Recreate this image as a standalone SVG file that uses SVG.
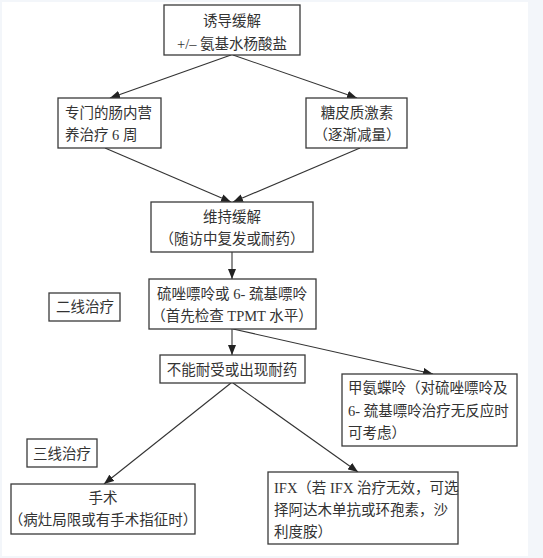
<svg xmlns="http://www.w3.org/2000/svg" width="543" height="558" viewBox="0 0 543 558">
<style>
.bx{fill:#fff;stroke:#3a3a3a;stroke-width:1.3}
.t{font-family:"Liberation Serif","Noto Sans CJK SC",serif;font-size:14.5px;fill:#333}
.c{text-anchor:middle}
.ln{stroke:#333;stroke-width:1.1;fill:none}
</style>
<defs>
<marker id="ah" markerUnits="userSpaceOnUse" markerWidth="10" markerHeight="8" refX="10" refY="4" orient="auto">
<path d="M0,0 L10,4 L0,8 z" fill="#222"/>
</marker>
</defs>
<rect x="0" y="0" width="543" height="558" fill="#f3f6fa"/>
<rect x="2" y="2" width="526" height="554" fill="#fff"/>
<g id="connectors">
<line class="ln" x1="231" y1="55" x2="110" y2="98" marker-end="url(#ah)"/>
<line class="ln" x1="233" y1="55" x2="357" y2="98" marker-end="url(#ah)"/>
<line class="ln" x1="105" y1="148" x2="231" y2="202" marker-end="url(#ah)"/>
<line class="ln" x1="360" y1="148" x2="233" y2="202" marker-end="url(#ah)"/>
<line class="ln" x1="232" y1="252" x2="232" y2="279" marker-end="url(#ah)"/>
<line class="ln" x1="232" y1="329" x2="232" y2="355" marker-end="url(#ah)"/>
<line class="ln" x1="233" y1="329" x2="433" y2="374" marker-end="url(#ah)"/>
<line class="ln" x1="231" y1="383" x2="104" y2="484" marker-end="url(#ah)"/>
<line class="ln" x1="233" y1="383" x2="358" y2="472" marker-end="url(#ah)"/>
</g>
<g id="n1"><rect class="bx" x="164" y="5" width="136" height="50"/>
<text class="t c" x="232" y="26">诱导缓解</text>
<text class="t c" x="232" y="49">+/– 氨基水杨酸盐</text></g>
<g id="n2"><rect class="bx" x="58" y="98" width="103" height="50"/>
<text class="t" x="65" y="118">专门的肠内营</text>
<text class="t" x="65" y="140">养治疗 6 周</text></g>
<g id="n3"><rect class="bx" x="306" y="98" width="101" height="50"/>
<text class="t c" x="357" y="118">糖皮质激素</text>
<text class="t c" x="357" y="140">（逐渐减量）</text></g>
<g id="n4"><rect class="bx" x="151" y="202" width="162" height="50"/>
<text class="t c" x="232" y="222">维持缓解</text>
<text class="t c" x="232" y="244">（随访中复发或耐药）</text></g>
<g id="n5"><rect class="bx" x="149" y="279" width="167" height="50"/>
<text class="t c" x="232" y="299">硫唑嘌呤或 6- 巯基嘌呤</text>
<text class="t c" x="232" y="321">（首先检查 TPMT 水平）</text></g>
<g id="n6"><rect class="bx" x="49" y="293" width="71" height="28"/>
<text class="t c" x="85" y="312">二线治疗</text></g>
<g id="n7"><rect class="bx" x="160" y="355" width="145" height="28"/>
<text class="t c" x="232" y="375">不能耐受或出现耐药</text></g>
<g id="n8"><rect class="bx" x="342" y="374" width="175" height="72"/>
<text class="t" x="348" y="393">甲氨蝶呤（对硫唑嘌呤及</text>
<text class="t" x="348" y="416">6- 巯基嘌呤治疗无反应时</text>
<text class="t" x="348" y="438">可考虑）</text></g>
<g id="n9"><rect class="bx" x="27" y="439" width="70" height="28"/>
<text class="t c" x="62" y="459">三线治疗</text></g>
<g id="n10"><rect class="bx" x="11" y="484" width="184" height="50"/>
<text class="t c" x="103" y="503">手术</text>
<text class="t c" x="103" y="525">（病灶局限或有手术指征时）</text></g>
<g id="n11"><rect class="bx" x="268" y="472" width="190" height="72"/>
<text class="t" x="274" y="493">IFX（若 IFX 治疗无效，可选</text>
<text class="t" x="274" y="515">择阿达木单抗或环孢素，沙</text>
<text class="t" x="274" y="537">利度胺）</text></g>
</svg>
